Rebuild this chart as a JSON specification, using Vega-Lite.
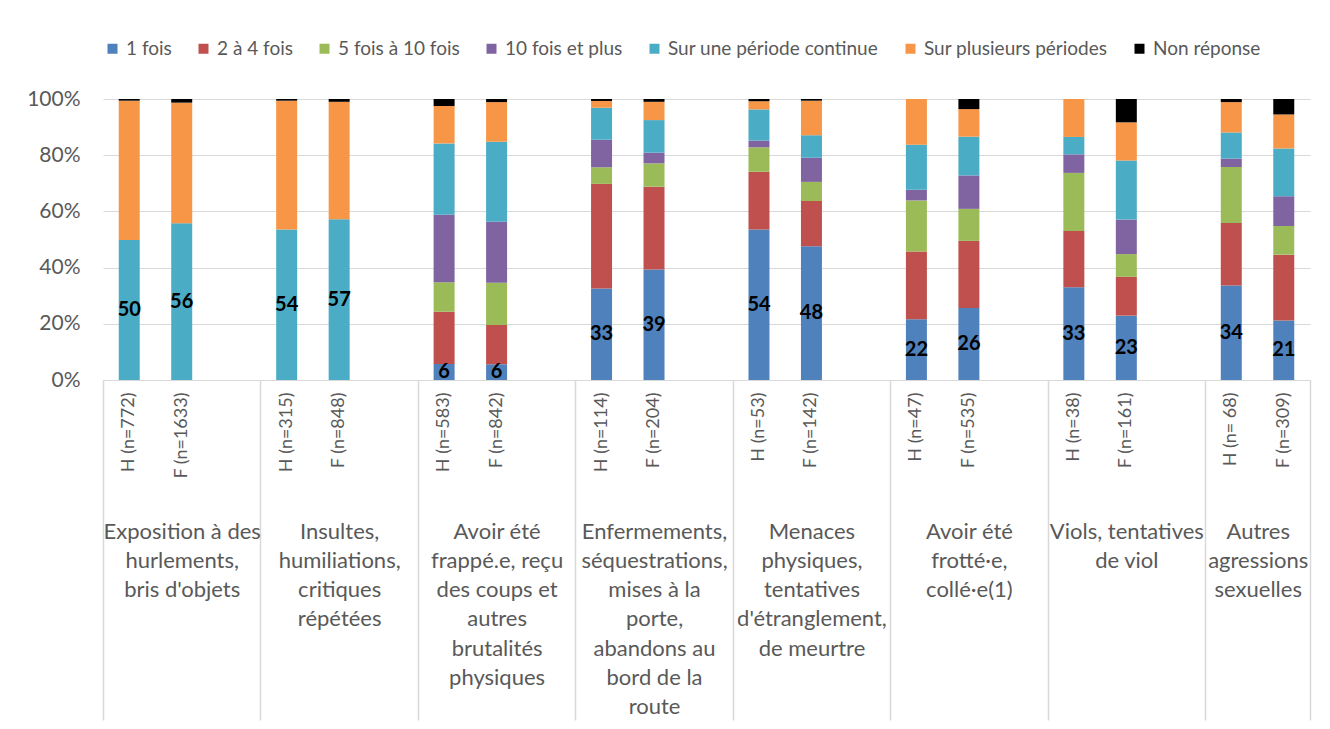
{
  "$schema": "https://vega.github.io/schema/vega-lite/v6.json",
  "width": 1207,
  "height": 281,
  "autosize": {"type": "none"},
  "padding": {"left": 103, "top": 99, "right": 20, "bottom": 349},
  "background": "white",
  "config": {
    "font": "Lato",
    "view": {"stroke": null},
    "legend": {"labelFont": "Lato"},
    "axis": {"labelFont": "Lato"}
  },
  "datasets": {
    "bars": [
      {"slot": "H (n=772)", "cat": "Sur une période continue", "v": 49.8},
      {"slot": "H (n=772)", "cat": "Sur plusieurs périodes", "v": 49.6},
      {"slot": "H (n=772)", "cat": "Non réponse", "v": 0.6},
      {"slot": "F (n=1633)", "cat": "Sur une période continue", "v": 55.8},
      {"slot": "F (n=1633)", "cat": "Sur plusieurs périodes", "v": 42.9},
      {"slot": "F (n=1633)", "cat": "Non réponse", "v": 1.3},
      {"slot": "H (n=315)", "cat": "Sur une période continue", "v": 53.6},
      {"slot": "H (n=315)", "cat": "Sur plusieurs périodes", "v": 45.8},
      {"slot": "H (n=315)", "cat": "Non réponse", "v": 0.6},
      {"slot": "F (n=848)", "cat": "Sur une période continue", "v": 57.2},
      {"slot": "F (n=848)", "cat": "Sur plusieurs périodes", "v": 41.8},
      {"slot": "F (n=848)", "cat": "Non réponse", "v": 1.0},
      {"slot": "H (n=583)", "cat": "1 fois", "v": 5.7},
      {"slot": "H (n=583)", "cat": "2 à 4 fois", "v": 18.6},
      {"slot": "H (n=583)", "cat": "5 fois à 10 fois", "v": 10.5},
      {"slot": "H (n=583)", "cat": "10 fois et plus", "v": 24.0},
      {"slot": "H (n=583)", "cat": "Sur une période continue", "v": 25.4},
      {"slot": "H (n=583)", "cat": "Sur plusieurs périodes", "v": 13.3},
      {"slot": "H (n=583)", "cat": "Non réponse", "v": 2.5},
      {"slot": "F (n=842)", "cat": "1 fois", "v": 5.6},
      {"slot": "F (n=842)", "cat": "2 à 4 fois", "v": 14.0},
      {"slot": "F (n=842)", "cat": "5 fois à 10 fois", "v": 15.0},
      {"slot": "F (n=842)", "cat": "10 fois et plus", "v": 21.7},
      {"slot": "F (n=842)", "cat": "Sur une période continue", "v": 28.5},
      {"slot": "F (n=842)", "cat": "Sur plusieurs périodes", "v": 14.1},
      {"slot": "F (n=842)", "cat": "Non réponse", "v": 1.1},
      {"slot": "H (n=114)", "cat": "1 fois", "v": 32.6},
      {"slot": "H (n=114)", "cat": "2 à 4 fois", "v": 37.2},
      {"slot": "H (n=114)", "cat": "5 fois à 10 fois", "v": 5.9},
      {"slot": "H (n=114)", "cat": "10 fois et plus", "v": 9.8},
      {"slot": "H (n=114)", "cat": "Sur une période continue", "v": 11.4},
      {"slot": "H (n=114)", "cat": "Sur plusieurs périodes", "v": 2.4},
      {"slot": "H (n=114)", "cat": "Non réponse", "v": 0.7},
      {"slot": "F (n=204)", "cat": "1 fois", "v": 39.3},
      {"slot": "F (n=204)", "cat": "2 à 4 fois", "v": 29.5},
      {"slot": "F (n=204)", "cat": "5 fois à 10 fois", "v": 8.3},
      {"slot": "F (n=204)", "cat": "10 fois et plus", "v": 3.8},
      {"slot": "F (n=204)", "cat": "Sur une période continue", "v": 11.6},
      {"slot": "F (n=204)", "cat": "Sur plusieurs périodes", "v": 6.5},
      {"slot": "F (n=204)", "cat": "Non réponse", "v": 1.0},
      {"slot": "H (n=53)", "cat": "1 fois", "v": 53.6},
      {"slot": "H (n=53)", "cat": "2 à 4 fois", "v": 20.5},
      {"slot": "H (n=53)", "cat": "5 fois à 10 fois", "v": 8.7},
      {"slot": "H (n=53)", "cat": "10 fois et plus", "v": 2.4},
      {"slot": "H (n=53)", "cat": "Sur une période continue", "v": 11.1},
      {"slot": "H (n=53)", "cat": "Sur plusieurs périodes", "v": 2.9},
      {"slot": "H (n=53)", "cat": "Non réponse", "v": 0.8},
      {"slot": "F (n=142)", "cat": "1 fois", "v": 47.6},
      {"slot": "F (n=142)", "cat": "2 à 4 fois", "v": 16.1},
      {"slot": "F (n=142)", "cat": "5 fois à 10 fois", "v": 6.8},
      {"slot": "F (n=142)", "cat": "10 fois et plus", "v": 8.6},
      {"slot": "F (n=142)", "cat": "Sur une période continue", "v": 8.0},
      {"slot": "F (n=142)", "cat": "Sur plusieurs périodes", "v": 12.3},
      {"slot": "F (n=142)", "cat": "Non réponse", "v": 0.6},
      {"slot": "H (n=47)", "cat": "1 fois", "v": 21.6},
      {"slot": "H (n=47)", "cat": "2 à 4 fois", "v": 24.1},
      {"slot": "H (n=47)", "cat": "5 fois à 10 fois", "v": 18.2},
      {"slot": "H (n=47)", "cat": "10 fois et plus", "v": 3.8},
      {"slot": "H (n=47)", "cat": "Sur une période continue", "v": 16.0},
      {"slot": "H (n=47)", "cat": "Sur plusieurs périodes", "v": 16.3},
      {"slot": "F (n=535)", "cat": "1 fois", "v": 25.6},
      {"slot": "F (n=535)", "cat": "2 à 4 fois", "v": 23.9},
      {"slot": "F (n=535)", "cat": "5 fois à 10 fois", "v": 11.4},
      {"slot": "F (n=535)", "cat": "10 fois et plus", "v": 11.9},
      {"slot": "F (n=535)", "cat": "Sur une période continue", "v": 13.8},
      {"slot": "F (n=535)", "cat": "Sur plusieurs périodes", "v": 9.8},
      {"slot": "F (n=535)", "cat": "Non réponse", "v": 3.6},
      {"slot": "H (n=38)", "cat": "1 fois", "v": 33.0},
      {"slot": "H (n=38)", "cat": "2 à 4 fois", "v": 20.0},
      {"slot": "H (n=38)", "cat": "5 fois à 10 fois", "v": 20.7},
      {"slot": "H (n=38)", "cat": "10 fois et plus", "v": 6.6},
      {"slot": "H (n=38)", "cat": "Sur une période continue", "v": 6.2},
      {"slot": "H (n=38)", "cat": "Sur plusieurs périodes", "v": 13.5},
      {"slot": "F (n=161)", "cat": "1 fois", "v": 22.9},
      {"slot": "F (n=161)", "cat": "2 à 4 fois", "v": 13.8},
      {"slot": "F (n=161)", "cat": "5 fois à 10 fois", "v": 8.1},
      {"slot": "F (n=161)", "cat": "10 fois et plus", "v": 12.3},
      {"slot": "F (n=161)", "cat": "Sur une période continue", "v": 21.0},
      {"slot": "F (n=161)", "cat": "Sur plusieurs périodes", "v": 13.6},
      {"slot": "F (n=161)", "cat": "Non réponse", "v": 8.3},
      {"slot": "H (n= 68)", "cat": "1 fois", "v": 33.6},
      {"slot": "H (n= 68)", "cat": "2 à 4 fois", "v": 22.3},
      {"slot": "H (n= 68)", "cat": "5 fois à 10 fois", "v": 19.9},
      {"slot": "H (n= 68)", "cat": "10 fois et plus", "v": 3.0},
      {"slot": "H (n= 68)", "cat": "Sur une période continue", "v": 9.3},
      {"slot": "H (n= 68)", "cat": "Sur plusieurs périodes", "v": 10.8},
      {"slot": "H (n= 68)", "cat": "Non réponse", "v": 1.1},
      {"slot": "F (n=309)", "cat": "1 fois", "v": 21.2},
      {"slot": "F (n=309)", "cat": "2 à 4 fois", "v": 23.4},
      {"slot": "F (n=309)", "cat": "5 fois à 10 fois", "v": 10.2},
      {"slot": "F (n=309)", "cat": "10 fois et plus", "v": 10.6},
      {"slot": "F (n=309)", "cat": "Sur une période continue", "v": 17.0},
      {"slot": "F (n=309)", "cat": "Sur plusieurs périodes", "v": 12.1},
      {"slot": "F (n=309)", "cat": "Non réponse", "v": 5.5}
    ],
    "labels": [
      {"slot": "H (n=772)", "v": 49.8},
      {"slot": "F (n=1633)", "v": 55.8},
      {"slot": "H (n=315)", "v": 53.6},
      {"slot": "F (n=848)", "v": 57.2},
      {"slot": "H (n=583)", "v": 5.7},
      {"slot": "F (n=842)", "v": 5.6},
      {"slot": "H (n=114)", "v": 32.6},
      {"slot": "F (n=204)", "v": 39.3},
      {"slot": "H (n=53)", "v": 53.6},
      {"slot": "F (n=142)", "v": 47.6},
      {"slot": "H (n=47)", "v": 21.6},
      {"slot": "F (n=535)", "v": 25.6},
      {"slot": "H (n=38)", "v": 33.0},
      {"slot": "F (n=161)", "v": 22.9},
      {"slot": "H (n= 68)", "v": 33.6},
      {"slot": "F (n=309)", "v": 21.2}
    ]
  },
  "layer": [
    {
      "data": {"name": "bars"},
      "transform": [{"calculate": "indexof(['1 fois', '2 à 4 fois', '5 fois à 10 fois', '10 fois et plus', 'Sur une période continue', 'Sur plusieurs périodes', 'Non réponse'], datum.cat)", "as": "ord"}],
      "mark": {"type": "bar", "width": {"band": 0.4}},
      "encoding": {
        "x": {
          "field": "slot", "type": "nominal", "sort": null,
          "scale": {
            "domain": ["H (n=772)", "F (n=1633)", "sp1", "H (n=315)", "F (n=848)", "sp2", "H (n=583)", "F (n=842)", "sp3", "H (n=114)", "F (n=204)", "sp4", "H (n=53)", "F (n=142)", "sp5", "H (n=47)", "F (n=535)", "sp6", "H (n=38)", "F (n=161)", "sp7", "H (n= 68)", "F (n=309)"],
            "paddingInner": 0, "paddingOuter": 0
          },
          "axis": {
            "title": null,
            "orient": "bottom",
            "labelAngle": -90,
            "labelAlign": "right",
            "labelBaseline": "middle",
            "labelPadding": 12,
            "labelFontSize": 18,
            "labelColor": "#595959",
            "ticks": false,
            "grid": false,
            "domainColor": "#d9d9d9",
            "domainWidth": 1,
            "labelExpr": "indexof(datum.value, 'sp') === 0 ? '' : datum.label"
          }
        },
        "y": {
          "field": "v", "type": "quantitative", "stack": "zero",
          "scale": {"domain": [0, 100], "nice": false},
          "axis": {
            "title": null,
            "values": [0, 20, 40, 60, 80, 100],
            "labelExpr": "datum.value + '%'",
            "domain": false,
            "ticks": false,
            "grid": true,
            "gridColor": "#d9d9d9",
            "labelPadding": 23,
            "labelFontSize": 21,
            "labelColor": "#595959"
          }
        },
        "order": {"field": "ord", "type": "quantitative", "sort": "ascending"},
        "color": {
          "field": "cat", "type": "nominal",
          "scale": {
            "domain": ["1 fois", "2 à 4 fois", "5 fois à 10 fois", "10 fois et plus", "Sur une période continue", "Sur plusieurs périodes", "Non réponse"],
            "range": ["#4F81BD", "#C0504D", "#9BBB59", "#8064A2", "#4BACC6", "#F79646", "#000000"]
          },
          "legend": {
            "title": null,
            "orient": "none",
            "direction": "horizontal",
            "columns": 7,
            "padding": 0,
            "legendX": 0,
            "legendY": -60,
            "symbolType": "square",
            "symbolSize": 100,
            "symbolStrokeWidth": 0,
            "labelFontSize": 19,
            "labelLimit": 400,
            "labelColor": "#595959",
            "labelOffset": 4,
            "columnPadding": 22
          }
        }
      }
    },
    {
      "data": {"name": "labels"},
      "transform": [{"calculate": "datum.v / 2", "as": "mid"}],
      "mark": {"type": "text", "fontWeight": "bold", "fontSize": 20, "color": "black", "baseline": "middle"},
      "encoding": {
        "x": {
          "field": "slot", "type": "nominal", "sort": null,
          "axis": {
            "title": null,
            "orient": "bottom",
            "domain": false,
            "grid": false,
            "labelAngle": 0,
            "labelAlign": "center",
            "labelBaseline": "top",
            "labelFontSize": 22,
            "labelLineHeight": 29.3,
            "labelColor": "#595959",
            "labelLimit": 0,
            "labelOverlap": false,
            "labelPadding": -199,
            "tickBand": "extent",
            "tickSize": 340,
            "tickColor": "#d9d9d9",
            "tickWidth": 1.5,
            "tickOpacity": {"condition": {"test": "datum.extra || indexof(datum.value, 'sp') === 0 || datum.value === 'F (n=309)'", "value": 1}, "value": 0},
            "labelOffset": {"condition": {"test": "datum.value === 'F (n=309)'", "value": -26}, "value": 0},
            "labelExpr": "({'F (n=1633)': ['Exposition à des', 'hurlements,', \"bris d'objets\"], 'F (n=848)': ['Insultes,', 'humiliations,', 'critiques', 'répétées'], 'F (n=842)': ['Avoir été', 'frappé.e, reçu', 'des coups et', 'autres', 'brutalités', 'physiques'], 'F (n=204)': ['Enfermements,', 'séquestrations,', 'mises à la', 'porte,', 'abandons au', 'bord de la', 'route'], 'F (n=142)': ['Menaces', 'physiques,', 'tentatives', \"d'étranglement,\", 'de meurtre'], 'F (n=535)': ['Avoir été', 'frotté·e,', 'collé·e(1)'], 'F (n=161)': ['Viols, tentatives', 'de viol'], 'F (n=309)': ['Autres', 'agressions', 'sexuelles']})[datum.value] || ''"
          }
        },
        "y": {"field": "mid", "type": "quantitative"},
        "text": {"field": "v", "type": "quantitative", "format": ".0f"}
      }
    }
  ],
  "resolve": {"axis": {"x": "independent"}}
}
